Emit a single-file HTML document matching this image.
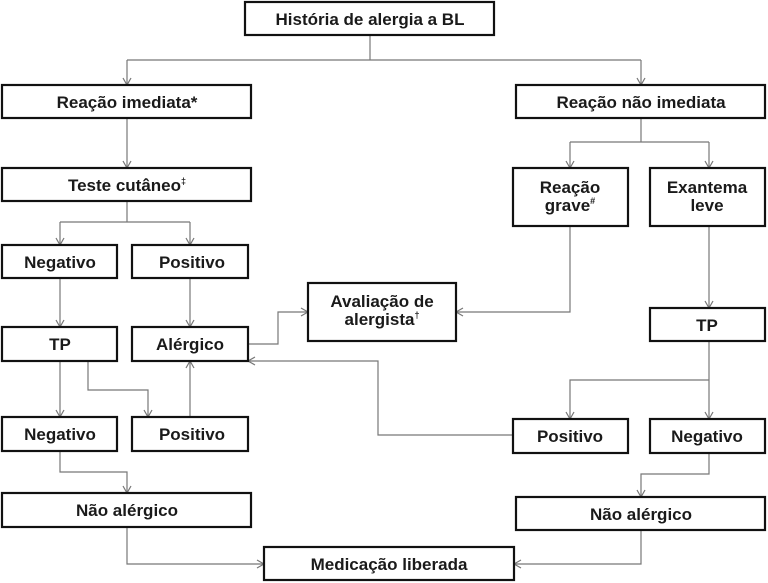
<!DOCTYPE html>
<html><head><meta charset="utf-8"><style>
body{margin:0;background:#fff;}
svg{display:block}
rect{fill:#fff;stroke:#111;stroke-width:2.2}
text{font-family:"Liberation Sans",sans-serif;font-weight:bold;font-size:17px;fill:#1a1a1a;text-anchor:middle}
.l{fill:none;stroke:#777;stroke-width:1.2}
</style></head><body>
<svg width="768" height="583" viewBox="0 0 768 583">
<defs><marker id="a" markerWidth="10" markerHeight="10" refX="8" refY="5" orient="auto" markerUnits="userSpaceOnUse"><path d="M1,1 L8,5 L1,9" fill="none" stroke="#777" stroke-width="1.2"/></marker></defs>
<g class="l">
<path d="M370,35 V60"/>
<path d="M127,60 H641"/>
<path d="M127,60 V85" marker-end="url(#a)"/>
<path d="M641,60 V85" marker-end="url(#a)"/>
<path d="M127,118 V168" marker-end="url(#a)"/>
<path d="M127,201 V222 M60,222 H190"/>
<path d="M60,222 V245" marker-end="url(#a)"/>
<path d="M190,222 V245" marker-end="url(#a)"/>
<path d="M641,118 V142 M570,142 H709"/>
<path d="M570,142 V168" marker-end="url(#a)"/>
<path d="M709,142 V168" marker-end="url(#a)"/>
<path d="M570,226 V312 H456" marker-end="url(#a)"/>
<path d="M709,226 V308" marker-end="url(#a)"/>
<path d="M709,341 V419" marker-end="url(#a)"/>
<path d="M709,380 H570 V419" marker-end="url(#a)"/>
<path d="M513,435 H378 V361 H248" marker-end="url(#a)"/>
<path d="M709,453 V474 H641 V497" marker-end="url(#a)"/>
<path d="M641,530 V564 H514" marker-end="url(#a)"/>
<path d="M60,278 V327" marker-end="url(#a)"/>
<path d="M190,278 V327" marker-end="url(#a)"/>
<path d="M248,344 H278 V312 H308" marker-end="url(#a)"/>
<path d="M60,361 V417" marker-end="url(#a)"/>
<path d="M88,361 V390 H148 V417" marker-end="url(#a)"/>
<path d="M190,417 V361" marker-end="url(#a)"/>
<path d="M60,451 V472 H127 V493" marker-end="url(#a)"/>
<path d="M127,527 V564 H264" marker-end="url(#a)"/>
</g>
<rect x="245" y="2" width="249" height="33"/><text x="370" y="25">História de alergia a BL</text>
<rect x="2" y="85" width="249" height="33"/><text x="127" y="108">Reação imediata*</text>
<rect x="516" y="85" width="249" height="33"/><text x="641" y="108">Reação não imediata</text>
<rect x="2" y="168" width="249" height="33"/><text x="127" y="191">Teste cutâneo<tspan font-size="9" dy="-7">‡</tspan></text>
<rect x="2" y="245" width="115" height="33"/><text x="60" y="268">Negativo</text>
<rect x="132" y="245" width="116" height="33"/><text x="192" y="268">Positivo</text>
<rect x="513" y="168" width="115" height="58"/><text x="570" y="193">Reação</text><text x="570" y="211">grave<tspan font-size="9" dy="-7">#</tspan></text>
<rect x="650" y="168" width="115" height="58"/><text x="707" y="193">Exantema</text><text x="707" y="211">leve</text>
<rect x="308" y="283" width="148" height="58"/><text x="382" y="307">Avaliação de</text><text x="382" y="325">alergista<tspan font-size="9" dy="-7">†</tspan></text>
<rect x="650" y="308" width="115" height="33"/><text x="707" y="331">TP</text>
<rect x="2" y="327" width="115" height="34"/><text x="60" y="350">TP</text>
<rect x="132" y="327" width="116" height="34"/><text x="190" y="350">Alérgico</text>
<rect x="2" y="417" width="115" height="34"/><text x="60" y="440">Negativo</text>
<rect x="132" y="417" width="116" height="34"/><text x="192" y="440">Positivo</text>
<rect x="513" y="419" width="115" height="34"/><text x="570" y="442">Positivo</text>
<rect x="650" y="419" width="115" height="34"/><text x="707" y="442">Negativo</text>
<rect x="2" y="493" width="249" height="34"/><text x="127" y="516">Não alérgico</text>
<rect x="516" y="497" width="249" height="33"/><text x="641" y="520">Não alérgico</text>
<rect x="264" y="547" width="250" height="33"/><text x="389" y="570">Medicação liberada</text>
</svg>
</body></html>
